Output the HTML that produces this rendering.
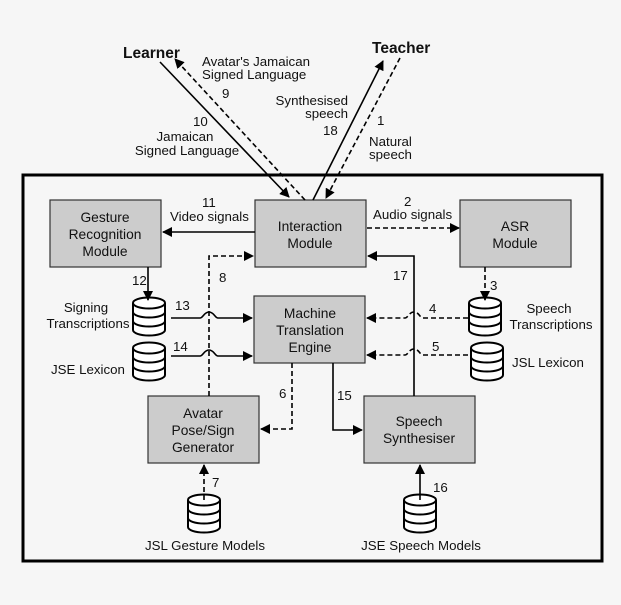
<!DOCTYPE html>
<html><head><meta charset="utf-8"><style>
html,body{margin:0;padding:0;background:#f6f6f6;}
svg{display:block;font-family:"Liberation Sans",Arial,sans-serif;}
text{font-size:13.3px;fill:#111;}
</style></head><body>
<svg width="621" height="605" viewBox="0 0 621 605" xmlns="http://www.w3.org/2000/svg">
<defs>
<marker id="a" markerWidth="10" markerHeight="10" refX="9" refY="5" orient="auto" markerUnits="userSpaceOnUse">
<path d="M0,0 L10,5 L0,10 Z" fill="#000"/></marker>
<g id="cyl" fill="#fff" stroke="#000" stroke-width="2">
<path d="M0,6 L0,33 A16,5.5 0 0 0 32,33 L32,6"/>
<ellipse cx="16" cy="6" rx="16" ry="5.5"/>
<path d="M0,15 A16,5.5 0 0 0 32,15 M0,24 A16,5.5 0 0 0 32,24" fill="none"/>
</g>
</defs>
<rect width="621" height="605" fill="#f6f6f6"/>
<rect x="23" y="175" width="579" height="386" fill="none" stroke="#000" stroke-width="3"/>

<g fill="#cccccc" stroke="#333" stroke-width="1.2">
<rect x="50" y="200" width="111" height="67"/>
<rect x="255" y="200" width="111" height="67"/>
<rect x="460" y="200" width="111" height="67"/>
<rect x="254" y="296" width="111" height="67"/>
<rect x="148" y="396" width="111" height="67"/>
<rect x="364" y="396" width="111" height="67"/>
</g>
<g text-anchor="middle">
<text x="105" y="222" style="font-size:13.8px">Gesture</text>
<text x="105" y="239" style="font-size:13.8px">Recognition</text>
<text x="105" y="256" style="font-size:13.8px">Module</text>
<text x="310" y="231" style="font-size:13.8px">Interaction</text>
<text x="310" y="248" style="font-size:13.8px">Module</text>
<text x="515" y="231" style="font-size:13.8px">ASR</text>
<text x="515" y="248" style="font-size:13.8px">Module</text>
<text x="310" y="318" style="font-size:13.8px">Machine</text>
<text x="310" y="335" style="font-size:13.8px">Translation</text>
<text x="310" y="352" style="font-size:13.8px">Engine</text>
<text x="203" y="418" style="font-size:13.8px">Avatar</text>
<text x="203" y="435" style="font-size:13.8px">Pose/Sign</text>
<text x="203" y="452" style="font-size:13.8px">Generator</text>
<text x="419" y="426" style="font-size:13.8px">Speech</text>
<text x="419" y="443" style="font-size:13.8px">Synthesiser</text>
</g>

<use href="#cyl" x="133" y="297"/>
<use href="#cyl" x="133" y="342"/>
<use href="#cyl" x="469" y="297"/>
<use href="#cyl" x="471" y="342"/>
<use href="#cyl" x="188" y="494"/>
<use href="#cyl" x="404" y="494"/>

<g fill="none" stroke="#000" stroke-width="1.6">
<line x1="160" y1="62" x2="289" y2="197" marker-end="url(#a)"/>
<line x1="305" y1="200" x2="175" y2="59" stroke-dasharray="5,3" marker-end="url(#a)"/>
<line x1="313" y1="200" x2="383" y2="61" marker-end="url(#a)"/>
<line x1="400" y1="58" x2="326" y2="198" stroke-dasharray="5,3" marker-end="url(#a)"/>
<line x1="255" y1="232" x2="163" y2="232" marker-end="url(#a)"/>
<line x1="367" y1="228" x2="459" y2="228" stroke-dasharray="5,3" marker-end="url(#a)"/>
<path d="M209,396 L209,256 L253,256" stroke-dasharray="5,3" marker-end="url(#a)"/>
<path d="M414,396 L414,256 L368,256" marker-end="url(#a)"/>
<line x1="148" y1="267" x2="148" y2="300" marker-end="url(#a)"/>
<line x1="485" y1="267" x2="485" y2="300" stroke-dasharray="5,3" marker-end="url(#a)"/>
<path d="M171,318 L200,318 C203,318 204,312 209,312 C214,312 215,318 218,318 L252,318" marker-end="url(#a)"/>
<path d="M171,356 L200,356 C203,356 204,350 209,350 C214,350 215,356 218,356 L252,356" marker-end="url(#a)"/>
<path d="M468,318 L423,318 C420,318 419,312 414,312 C409,312 408,318 405,318 L367,318" stroke-dasharray="5,3" marker-end="url(#a)"/>
<path d="M468,355 L423,355 C420,355 419,349 414,349 C409,349 408,355 405,355 L367,355" stroke-dasharray="5,3" marker-end="url(#a)"/>
<path d="M292,363 L292,429 L261,429" stroke-dasharray="5,3" marker-end="url(#a)"/>
<path d="M333,363 L333,430 L362,430" marker-end="url(#a)"/>
<line x1="204" y1="500" x2="204" y2="465" stroke-dasharray="5,3" marker-end="url(#a)"/>
<line x1="420" y1="500" x2="420" y2="465" marker-end="url(#a)"/>
</g>

<text x="123" y="58" style="font-size:15.5px;font-weight:bold">Learner</text>
<text x="372" y="53" style="font-size:15.5px;font-weight:bold">Teacher</text>
<text x="202" y="66">Avatar's Jamaican</text>
<text x="202" y="79">Signed Language</text>
<text x="222" y="98">9</text>
<text x="348" y="105" text-anchor="end">Synthesised</text>
<text x="348" y="118" text-anchor="end">speech</text>
<text x="323" y="135">18</text>
<text x="193" y="126">10</text>
<text x="185" y="141" text-anchor="middle">Jamaican</text>
<text x="187" y="155" text-anchor="middle">Signed Language</text>
<text x="377" y="125">1</text>
<text x="369" y="146">Natural</text>
<text x="369" y="159">speech</text>
<text x="202" y="207">11</text>
<text x="170" y="221">Video signals</text>
<text x="404" y="206">2</text>
<text x="373" y="219">Audio signals</text>
<text x="219" y="282">8</text>
<text x="393" y="280">17</text>
<text x="132" y="285">12</text>
<text x="490" y="290">3</text>
<text x="175" y="310">13</text>
<text x="173" y="351">14</text>
<text x="429" y="313">4</text>
<text x="432" y="351">5</text>
<text x="279" y="398">6</text>
<text x="337" y="400">15</text>
<text x="212" y="487">7</text>
<text x="433" y="492">16</text>
<text x="86" y="312" text-anchor="middle">Signing</text>
<text x="88" y="328" text-anchor="middle">Transcriptions</text>
<text x="51" y="374">JSE Lexicon</text>
<text x="549" y="313" text-anchor="middle">Speech</text>
<text x="551" y="329" text-anchor="middle">Transcriptions</text>
<text x="512" y="367">JSL Lexicon</text>
<text x="205" y="550" text-anchor="middle">JSL Gesture Models</text>
<text x="421" y="550" text-anchor="middle">JSE Speech Models</text>
</svg>
</body></html>
